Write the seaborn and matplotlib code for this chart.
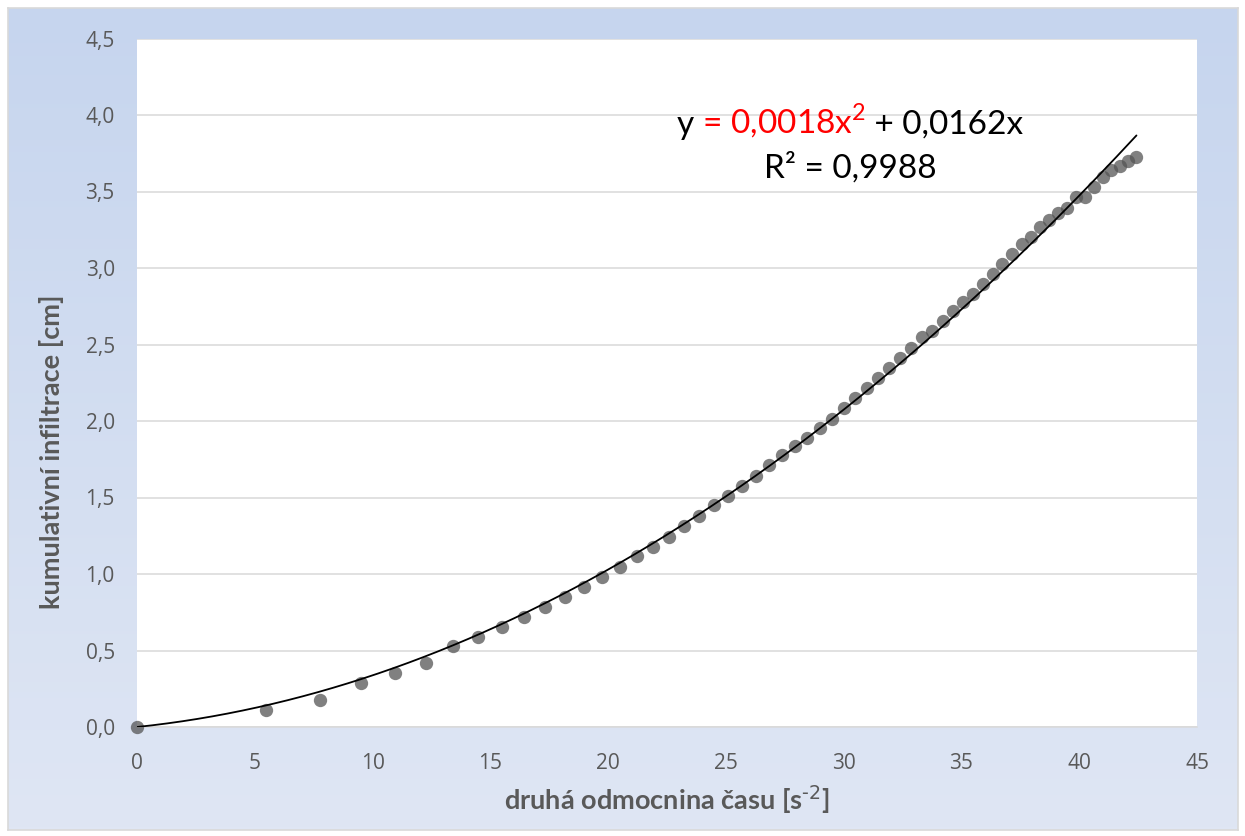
import numpy as np
import pandas as pd
import seaborn as sns
import matplotlib.pyplot as plt
from matplotlib.colors import LinearSegmentedColormap
from matplotlib.offsetbox import TextArea, HPacker, AnnotationBbox
from matplotlib.ticker import FuncFormatter

## Data
# square root of time (x) and cumulative infiltration in cm (y)
sqrt_time = [0, 5.48, 7.75, 9.49, 10.95, 12.25, 13.42, 14.49, 15.49, 16.43,
             17.32, 18.17, 18.97, 19.75, 20.49, 21.21, 21.91, 22.58, 23.24, 23.87,
             24.49, 25.10, 25.69, 26.27, 26.83, 27.39, 27.93, 28.46, 28.98, 29.50,
             30.00, 30.50, 30.98, 31.46, 31.94, 32.40, 32.86, 33.32, 33.76, 34.21,
             34.64, 35.07, 35.50, 35.92, 36.33, 36.74, 37.15, 37.55, 37.95, 38.34,
             38.73, 39.12, 39.50, 39.87, 40.25, 40.62, 40.99, 41.35, 41.71, 42.07,
             42.43]
infiltration = [0, 0.111, 0.176, 0.285, 0.351, 0.416, 0.527, 0.590, 0.656, 0.721,
                0.786, 0.852, 0.917, 0.982, 1.048, 1.118, 1.178, 1.244, 1.315, 1.379,
                1.451, 1.512, 1.577, 1.642, 1.710, 1.776, 1.839, 1.887, 1.952, 2.015,
                2.083, 2.148, 2.214, 2.279, 2.344, 2.410, 2.475, 2.549, 2.590, 2.656,
                2.717, 2.780, 2.830, 2.895, 2.961, 3.026, 3.092, 3.157, 3.200, 3.266,
                3.314, 3.357, 3.394, 3.462, 3.462, 3.527, 3.597, 3.641, 3.667, 3.701,
                3.723]
x_ticks = [0, 5, 10, 15, 20, 25, 30, 35, 40, 45]
y_ticks = [0, 0.5, 1.0, 1.5, 2.0, 2.5, 3.0, 3.5, 4.0, 4.5]

df = pd.DataFrame({"x": sqrt_time, "y": infiltration})

#Quadratic trendline through the origin (like the Excel trendline)
A = np.column_stack([df.x ** 2, df.x])
coef = np.linalg.lstsq(A, df.y, rcond=None)[0]
xs = np.linspace(df.x.min(), df.x.max(), 200)
trend = pd.DataFrame({"x": xs, "y": coef[0] * xs ** 2 + coef[1] * xs})

sns.set_style("white")
plt.rcParams["font.family"] = ["Lato", "DejaVu Sans"]
grey = "#595959"

W, H = 1245, 836
fig = plt.figure(figsize=(W / 100, H / 100), dpi=100, facecolor="white")

#Gradient chart background with thin border
bg = fig.add_axes([8 / W, 6 / H, 1230 / W, 822 / H], zorder=-1)
cmap = LinearSegmentedColormap.from_list("bgblue", ["#dfe6f4", "#c6d5ee"])
bg.imshow(np.linspace(0, 1, 256).reshape(-1, 1)[::-1], aspect="auto", cmap=cmap,
          extent=[0, 1, 0, 1])
bg.set_xticks([])
bg.set_yticks([])
for s in bg.spines.values():
    s.set_color("#d9d9d9")
    s.set_linewidth(1.2)

ax = fig.add_axes([137 / W, 1 - 727 / H, 1060 / W, (727 - 38.5) / H])
ax.set_facecolor("white")

sns.scatterplot(data=df, x="x", y="y", ax=ax, color="#555555", alpha=0.75,
                s=92, linewidth=0, zorder=3, clip_on=False)
sns.lineplot(data=trend, x="x", y="y", ax=ax, color="black", linewidth=1.3, zorder=4)

ax.set_xlim(0, 45)
ax.set_ylim(0, 4.5)
ax.set_xticks(x_ticks)
ax.set_yticks(y_ticks)
ax.yaxis.set_major_formatter(FuncFormatter(lambda v, p: f"{v:.1f}".replace(".", ",")))
ax.grid(axis="y", color="#d9d9d9", linewidth=1.1)
ax.grid(axis="x", visible=False)
ax.set_axisbelow(True)
for side in ["top", "right", "left"]:
    ax.spines[side].set_visible(False)
ax.spines["bottom"].set_color("#d9d9d9")
ax.spines["bottom"].set_linewidth(1.1)
ax.tick_params(axis="both", length=0, labelsize=15, colors=grey,
               labelfontfamily="Open Sans")
ax.tick_params(axis="x", pad=19)
ax.tick_params(axis="y", pad=16)
ax.set_xlabel("")
ax.set_ylabel("")

fig.text(667 / W, 1 - 800 / H, r"druhá odmocnina času [s$^{\text{-2}}$]",
         ha="center", va="center", fontsize=19.5, fontweight="bold", color=grey)
fig.text(52 / W, 1 - 452 / H, "kumulativní infiltrace [cm]", rotation=90,
         ha="center", va="center", fontsize=19.5, fontweight="bold", color=grey)

#Trendline equation, middle part in red
eq_size = 24
parts = [TextArea("y", textprops=dict(color="black", size=eq_size)),
         TextArea(" = 0,0018x$^{\\mathregular{2}}$", textprops=dict(color="red", size=eq_size)),
         TextArea(" + 0,0162x", textprops=dict(color="black", size=eq_size))]
row = HPacker(children=parts, align="baseline", pad=0, sep=0)
ab = AnnotationBbox(row, (850, H - 121), xycoords="figure pixels",
                    box_alignment=(0.5, 0.5), frameon=False)
fig.add_artist(ab)
fig.text(850 / W, 1 - 178 / H, "R² = 0,9988", ha="center", va="baseline",
         fontsize=eq_size, color="black")

plt.savefig("out.png", dpi=100)
